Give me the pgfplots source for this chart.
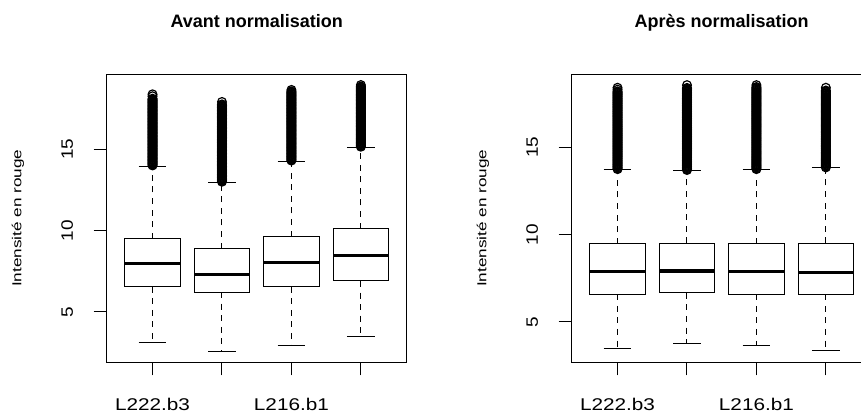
\documentclass[border=0pt]{standalone}
\usepackage{fontspec}
\setmainfont{Liberation Sans}
\newfontfamily\xtfont[FakeStretch=1.22]{Liberation Sans}
\newfontfamily\ytfont[FakeStretch=1.15]{Liberation Sans}
\newfontfamily\labfont[FakeStretch=1.32]{Liberation Sans}
\usepackage{pgfplots}
\pgfplotsset{compat=1.18}
\usepgfplotslibrary{statistics}
\pgfplotsset{
  rbox/.style={
    width=300pt, height=288pt, scale only axis, anchor=south west,
    xmin=0.34, xmax=4.66,
    xtick={1,2,3,4}, xticklabels={L222.b3,,L216.b1,},
    ytick={5,10,15},
    xtick pos=bottom, ytick pos=left,
    tick align=outside, major tick length=13pt,
    axis line style={line width=1pt},
    every tick/.style={black, line width=1pt},
    /pgf/number format/assume math mode=true,
    xticklabel style={font=\xtfont\fontsize{17pt}{17pt}\selectfont, anchor=north, inner sep=0pt},
    yticklabel style={font=\ytfont\fontsize{16.5pt}{16.5pt}\selectfont, rotate=90, anchor=south, inner sep=0pt},
    xticklabel shift=22.4pt, yticklabel shift=20.4pt,
    every axis title/.style={at={(0.5,1)}, anchor=base, yshift=47pt, font=\fontsize{18pt}{18pt}\selectfont\bfseries},
    every axis y label/.style={at={(axis description cs:-0.2957,0.5)}, rotate=90, anchor=center, font=\labfont\fontsize{13pt}{13pt}\selectfont},
    ylabel={Intensité en rouge},
    boxplot/draw direction=y,
    boxplot/box extend=0.8,
    boxplot/whisker extend=0.4,
    boxplot/every median/.style={line width=3.2pt},
    boxplot/draw/lower whisker/.code={%
      \draw[dash pattern=on 6pt off 5.6pt]
        (boxplot box cs:\pgfplotsboxplotvalue{lower quartile},0.5) --
        (boxplot box cs:\pgfplotsboxplotvalue{lower whisker},0.5);
      \draw (boxplot whisker cs:\pgfplotsboxplotvalue{lower whisker},0) --
        (boxplot whisker cs:\pgfplotsboxplotvalue{lower whisker},1);
    },
    boxplot/draw/upper whisker/.code={%
      \draw[dash pattern=on 6pt off 5.6pt]
        (boxplot box cs:\pgfplotsboxplotvalue{upper quartile},0.5) --
        (boxplot box cs:\pgfplotsboxplotvalue{upper whisker},0.5);
      \draw (boxplot whisker cs:\pgfplotsboxplotvalue{upper whisker},0) --
        (boxplot whisker cs:\pgfplotsboxplotvalue{upper whisker},1);
    },
  },
  rb/.style={black, line width=1pt, solid, mark=o, mark size=4.4pt, mark options={solid, line width=1.2pt}},
}
\begin{document}
\begin{tikzpicture}[x=1pt,y=1pt]
\useasboundingbox (0,0) rectangle (861,414);
\clip (0,0) rectangle (861,414);
\begin{axis}[rbox, at={(106.7pt,51.7pt)}, ymin=1.9, ymax=19.6, title={Avant normalisation}]
\addplot[rb, boxplot prepared={draw position=1, lower whisker=3.13, lower quartile=6.55, median=7.95, upper quartile=9.49, upper whisker=13.95}] table[row sep=\\, header=false, y index=0] {14.00\\14.05\\14.10\\14.15\\14.20\\14.25\\14.30\\14.35\\14.40\\14.45\\14.50\\14.55\\14.60\\14.65\\14.70\\14.75\\14.80\\14.85\\14.90\\14.95\\15.00\\15.05\\15.10\\15.15\\15.20\\15.25\\15.30\\15.35\\15.40\\15.45\\15.50\\15.55\\15.60\\15.65\\15.70\\15.75\\15.80\\15.85\\15.90\\15.95\\16.00\\16.05\\16.10\\16.15\\16.20\\16.25\\16.30\\16.35\\16.40\\16.45\\16.50\\16.55\\16.60\\16.65\\16.70\\16.75\\16.80\\16.85\\16.90\\16.95\\17.00\\17.05\\17.10\\17.15\\17.20\\17.25\\17.30\\17.35\\17.40\\17.45\\17.50\\17.55\\17.60\\17.65\\17.70\\17.75\\17.80\\17.85\\17.90\\17.95\\18.00\\18.05\\18.10\\18.25\\18.37\\};
\addplot[rb, boxplot prepared={draw position=2, lower whisker=2.56, lower quartile=6.22, median=7.29, upper quartile=8.89, upper whisker=12.97}] table[row sep=\\, header=false, y index=0] {13.00\\13.05\\13.10\\13.15\\13.20\\13.25\\13.30\\13.35\\13.40\\13.45\\13.50\\13.55\\13.60\\13.65\\13.70\\13.75\\13.80\\13.85\\13.90\\13.95\\14.00\\14.05\\14.10\\14.15\\14.20\\14.25\\14.30\\14.35\\14.40\\14.45\\14.50\\14.55\\14.60\\14.65\\14.70\\14.75\\14.80\\14.85\\14.90\\14.95\\15.00\\15.05\\15.10\\15.15\\15.20\\15.25\\15.30\\15.35\\15.40\\15.45\\15.50\\15.55\\15.60\\15.65\\15.70\\15.75\\15.80\\15.85\\15.90\\15.95\\16.00\\16.05\\16.10\\16.15\\16.20\\16.25\\16.30\\16.35\\16.40\\16.45\\16.50\\16.55\\16.60\\16.65\\16.70\\16.75\\16.80\\16.85\\16.90\\16.95\\17.00\\17.05\\17.10\\17.15\\17.20\\17.25\\17.30\\17.35\\17.40\\17.45\\17.50\\17.55\\17.60\\17.65\\17.70\\17.75\\17.90\\};
\addplot[rb, boxplot prepared={draw position=3, lower whisker=2.94, lower quartile=6.55, median=8.01, upper quartile=9.63, upper whisker=14.24}] table[row sep=\\, header=false, y index=0] {14.30\\14.35\\14.40\\14.45\\14.50\\14.55\\14.60\\14.65\\14.70\\14.75\\14.80\\14.85\\14.90\\14.95\\15.00\\15.05\\15.10\\15.15\\15.20\\15.25\\15.30\\15.35\\15.40\\15.45\\15.50\\15.55\\15.60\\15.65\\15.70\\15.75\\15.80\\15.85\\15.90\\15.95\\16.00\\16.05\\16.10\\16.15\\16.20\\16.25\\16.30\\16.35\\16.40\\16.45\\16.50\\16.55\\16.60\\16.65\\16.70\\16.75\\16.80\\16.85\\16.90\\16.95\\17.00\\17.05\\17.10\\17.15\\17.20\\17.25\\17.30\\17.35\\17.40\\17.45\\17.50\\17.55\\17.60\\17.65\\17.70\\17.75\\17.80\\17.85\\17.90\\17.95\\18.00\\18.05\\18.10\\18.15\\18.20\\18.25\\18.30\\18.35\\18.40\\18.45\\18.50\\18.55\\18.64\\};
\addplot[rb, boxplot prepared={draw position=4, lower whisker=3.50, lower quartile=6.90, median=8.48, upper quartile=10.12, upper whisker=15.10}] table[row sep=\\, header=false, y index=0] {15.15\\15.20\\15.25\\15.30\\15.35\\15.40\\15.45\\15.50\\15.55\\15.60\\15.65\\15.70\\15.75\\15.80\\15.85\\15.90\\15.95\\16.00\\16.05\\16.10\\16.15\\16.20\\16.25\\16.30\\16.35\\16.40\\16.45\\16.50\\16.55\\16.60\\16.65\\16.70\\16.75\\16.80\\16.85\\16.90\\16.95\\17.00\\17.05\\17.10\\17.15\\17.20\\17.25\\17.30\\17.35\\17.40\\17.45\\17.50\\17.55\\17.60\\17.65\\17.70\\17.75\\17.80\\17.85\\17.90\\17.95\\18.00\\18.05\\18.10\\18.15\\18.20\\18.25\\18.30\\18.35\\18.40\\18.45\\18.50\\18.55\\18.60\\18.65\\18.70\\18.75\\18.80\\18.85\\18.94\\};
\end{axis}
\begin{axis}[rbox, at={(571.7pt,51.7pt)}, ymin=2.69, ymax=19.18, title={Après normalisation}]
\addplot[rb, boxplot prepared={draw position=1, lower whisker=3.47, lower quartile=6.59, median=7.88, upper quartile=9.48, upper whisker=13.74}] table[row sep=\\, header=false, y index=0] {13.75\\13.80\\13.85\\13.90\\13.95\\14.00\\14.05\\14.10\\14.15\\14.20\\14.25\\14.30\\14.35\\14.40\\14.45\\14.50\\14.55\\14.60\\14.65\\14.70\\14.75\\14.80\\14.85\\14.90\\14.95\\15.00\\15.05\\15.10\\15.15\\15.20\\15.25\\15.30\\15.35\\15.40\\15.45\\15.50\\15.55\\15.60\\15.65\\15.70\\15.75\\15.80\\15.85\\15.90\\15.95\\16.00\\16.05\\16.10\\16.15\\16.20\\16.25\\16.30\\16.35\\16.40\\16.45\\16.50\\16.55\\16.60\\16.65\\16.70\\16.75\\16.80\\16.85\\16.90\\16.95\\17.00\\17.05\\17.10\\17.15\\17.20\\17.25\\17.30\\17.35\\17.40\\17.45\\17.50\\17.55\\17.60\\17.65\\17.70\\17.75\\17.80\\17.85\\17.90\\17.95\\18.00\\18.05\\18.10\\18.15\\18.20\\18.30\\18.41\\};
\addplot[rb, boxplot prepared={draw position=2, lower whisker=3.78, lower quartile=6.67, median=7.92, upper quartile=9.50, upper whisker=13.66}] table[row sep=\\, header=false, y index=0] {13.70\\13.75\\13.80\\13.85\\13.90\\13.95\\14.00\\14.05\\14.10\\14.15\\14.20\\14.25\\14.30\\14.35\\14.40\\14.45\\14.50\\14.55\\14.60\\14.65\\14.70\\14.75\\14.80\\14.85\\14.90\\14.95\\15.00\\15.05\\15.10\\15.15\\15.20\\15.25\\15.30\\15.35\\15.40\\15.45\\15.50\\15.55\\15.60\\15.65\\15.70\\15.75\\15.80\\15.85\\15.90\\15.95\\16.00\\16.05\\16.10\\16.15\\16.20\\16.25\\16.30\\16.35\\16.40\\16.45\\16.50\\16.55\\16.60\\16.65\\16.70\\16.75\\16.80\\16.85\\16.90\\16.95\\17.00\\17.05\\17.10\\17.15\\17.20\\17.25\\17.30\\17.35\\17.40\\17.45\\17.50\\17.55\\17.60\\17.65\\17.70\\17.75\\17.80\\17.85\\17.90\\17.95\\18.00\\18.05\\18.10\\18.15\\18.20\\18.25\\18.30\\18.35\\18.40\\18.56\\};
\addplot[rb, boxplot prepared={draw position=3, lower whisker=3.68, lower quartile=6.59, median=7.88, upper quartile=9.48, upper whisker=13.74}] table[row sep=\\, header=false, y index=0] {13.75\\13.80\\13.85\\13.90\\13.95\\14.00\\14.05\\14.10\\14.15\\14.20\\14.25\\14.30\\14.35\\14.40\\14.45\\14.50\\14.55\\14.60\\14.65\\14.70\\14.75\\14.80\\14.85\\14.90\\14.95\\15.00\\15.05\\15.10\\15.15\\15.20\\15.25\\15.30\\15.35\\15.40\\15.45\\15.50\\15.55\\15.60\\15.65\\15.70\\15.75\\15.80\\15.85\\15.90\\15.95\\16.00\\16.05\\16.10\\16.15\\16.20\\16.25\\16.30\\16.35\\16.40\\16.45\\16.50\\16.55\\16.60\\16.65\\16.70\\16.75\\16.80\\16.85\\16.90\\16.95\\17.00\\17.05\\17.10\\17.15\\17.20\\17.25\\17.30\\17.35\\17.40\\17.45\\17.50\\17.55\\17.60\\17.65\\17.70\\17.75\\17.80\\17.85\\17.90\\17.95\\18.00\\18.05\\18.10\\18.15\\18.20\\18.25\\18.30\\18.35\\18.40\\18.45\\18.56\\};
\addplot[rb, boxplot prepared={draw position=4, lower whisker=3.34, lower quartile=6.59, median=7.84, upper quartile=9.50, upper whisker=13.82}] table[row sep=\\, header=false, y index=0] {13.85\\13.90\\13.95\\14.00\\14.05\\14.10\\14.15\\14.20\\14.25\\14.30\\14.35\\14.40\\14.45\\14.50\\14.55\\14.60\\14.65\\14.70\\14.75\\14.80\\14.85\\14.90\\14.95\\15.00\\15.05\\15.10\\15.15\\15.20\\15.25\\15.30\\15.35\\15.40\\15.45\\15.50\\15.55\\15.60\\15.65\\15.70\\15.75\\15.80\\15.85\\15.90\\15.95\\16.00\\16.05\\16.10\\16.15\\16.20\\16.25\\16.30\\16.35\\16.40\\16.45\\16.50\\16.55\\16.60\\16.65\\16.70\\16.75\\16.80\\16.85\\16.90\\16.95\\17.00\\17.05\\17.10\\17.15\\17.20\\17.25\\17.30\\17.35\\17.40\\17.45\\17.50\\17.55\\17.60\\17.65\\17.70\\17.75\\17.80\\17.85\\17.90\\17.95\\18.00\\18.05\\18.10\\18.15\\18.20\\18.25\\18.41\\};
\end{axis}
\end{tikzpicture}
\end{document}
